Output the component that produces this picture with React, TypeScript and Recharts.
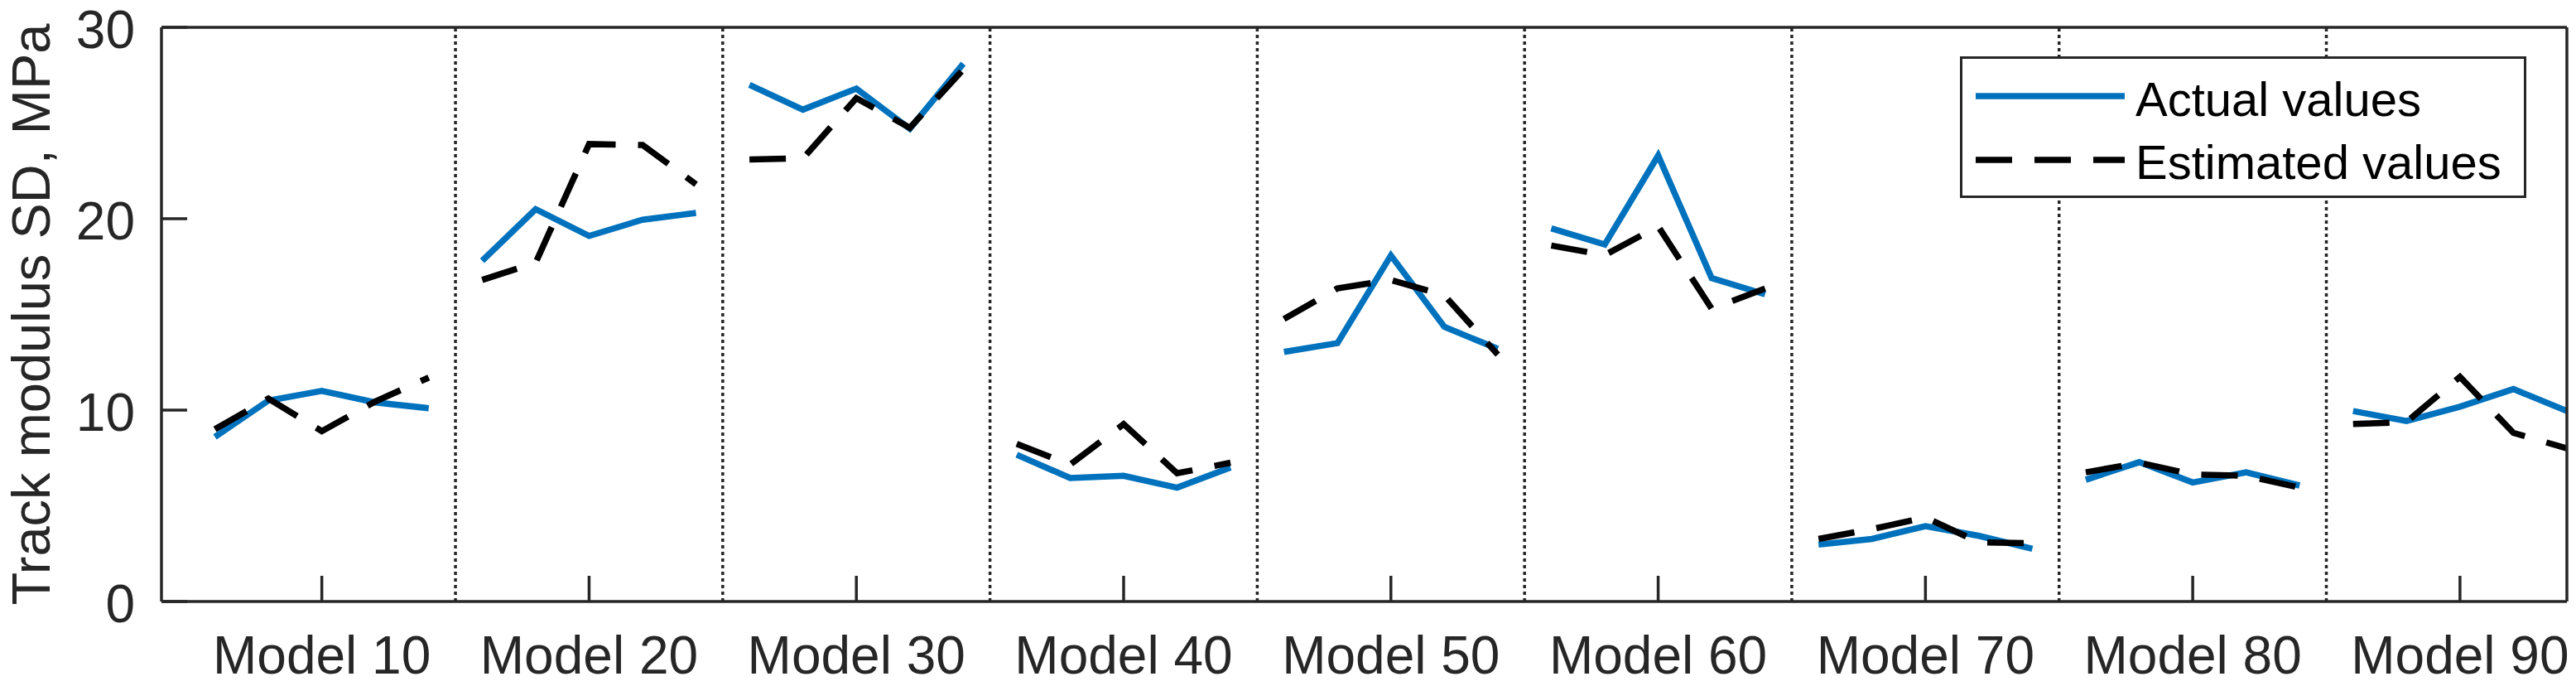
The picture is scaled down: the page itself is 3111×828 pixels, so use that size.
import React from "react";
import { LineChart, Line, XAxis, YAxis, ReferenceLine, Legend } from "recharts";

const categories = [
  "Model 10",
  "Model 20",
  "Model 30",
  "Model 40",
  "Model 50",
  "Model 60",
  "Model 70",
  "Model 80",
  "Model 90",
];

// five samples per model, spread around the model's tick
const sampleOffsets = [-0.4, -0.2, 0, 0.2, 0.4];

const actualValues = [
  [8.6, 10.5, 11.0, 10.4, 10.1],
  [17.8, 20.5, 19.1, 19.95, 20.3],
  [27.0, 25.7, 26.8, 24.7, 28.1],
  [7.67, 6.45, 6.57, 5.95, 7.0],
  [13.04, 13.5, 18.08, 14.35, 13.2],
  [19.5, 18.65, 23.3, 16.9, 16.05],
  [2.97, 3.27, 3.94, 3.43, 2.75],
  [6.36, 7.28, 6.22, 6.75, 6.06],
  [9.95, 9.43, 10.18, 11.1, 9.95],
];

const estimatedValues = [
  [9.0, 10.6, 8.9, 10.45, 11.7],
  [16.8, 17.7, 23.9, 23.85, 21.8],
  [23.1, 23.15, 26.3, 24.75, 27.8],
  [8.24, 7.15, 9.27, 6.7, 7.25],
  [14.76, 16.36, 16.8, 16.0, 12.9],
  [18.6, 18.1, 19.6, 15.3, 16.35],
  [3.27, 3.78, 4.39, 3.09, 3.04],
  [6.75, 7.25, 6.64, 6.57, 5.95],
  [9.27, 9.38, 11.74, 8.81, 8.0],
];

const yTicks = [0, 10, 20, 30];

const AXIS = "#262626";
const FONT = "'Liberation Sans', Arial, Helvetica, sans-serif";

const xTicks = categories.map((_, i) => i + 1);
const dividers = categories.slice(1).map((_, i) => i + 1.5);

// one row per sample, with an empty row between models so the lines break
const rows = categories.flatMap((_, i) => [
  ...sampleOffsets.map((off, j) => ({
    x: i + 1 + off,
    actual: actualValues[i][j],
    estimated: estimatedValues[i][j],
  })),
  ...(i < categories.length - 1
    ? [{ x: i + 1.5, actual: null, estimated: null }]
    : []),
]);

// y tick label, nudged a touch down so the top one stays inside the page
const YTick = ({ x, y, payload }: any) => (
  <text
    x={x}
    y={y + 2.5}
    dy="0.355em"
    textAnchor="end"
    fill={AXIS}
    fontSize={64}
    fontFamily={FONT}
  >
    {payload.value}
  </text>
);

const LegendBox = ({ payload }: any) => (
  <div
    style={{
      width: 684,
      height: 171,
      boxSizing: "border-box",
      border: `3px solid ${AXIS}`,
      background: "#fff",
    }}
  >
    <svg width={678} height={165} style={{ display: "block" }}>
      {(payload || []).map((entry: any, i: number) => (
        <g key={entry.value}>
          <line
            x1={16}
            x2={196}
            y1={45 + i * 77}
            y2={45 + i * 77}
            stroke={entry.color}
            strokeWidth={7.5}
            strokeDasharray={entry.payload?.strokeDasharray}
          />
          <text
            x={209}
            y={69 + i * 76}
            fontSize={58}
            fontFamily={FONT}
            fill="#000"
          >
            {entry.value}
          </text>
        </g>
      ))}
    </svg>
  </div>
);

export default function App() {
  return (
    <div style={{ width: 3111, height: 828, background: "#fff" }}>
      <style>{"body{margin:0;}"}</style>
      <LineChart
        width={3111}
        height={828}
        data={rows}
        margin={{ top: 32, right: 10, left: 0, bottom: 0 }}
      >
        <XAxis
          dataKey="x"
          type="number"
          domain={[0.4, 9.4]}
          allowDataOverflow
          ticks={xTicks}
          interval={0}
          tickFormatter={(v: number) => categories[Math.round(v) - 1]}
          height={102}
          tickSize={-31}
          tickMargin={73}
          tickLine={{ stroke: AXIS, strokeWidth: 3.5 }}
          axisLine={{ stroke: AXIS, strokeWidth: 3.5 }}
          tick={{ fill: AXIS, fontSize: 64, fontFamily: FONT }}
        />
        <XAxis
          xAxisId="top"
          orientation="top"
          type="number"
          domain={[0.4, 9.4]}
          allowDataOverflow
          ticks={xTicks}
          interval={0}
          height={1}
          tickSize={-31}
          tick={false}
          tickLine={{ stroke: AXIS, strokeWidth: 3.5 }}
          axisLine={{ stroke: AXIS, strokeWidth: 3.5 }}
        />
        <YAxis
          type="number"
          domain={[0, 30]}
          ticks={yTicks}
          interval={0}
          width={195}
          tickSize={-31}
          tickMargin={63}
          tickLine={{ stroke: AXIS, strokeWidth: 3.5 }}
          axisLine={{ stroke: AXIS, strokeWidth: 3.5 }}
          tick={<YTick />}
          label={{
            value: "Track modulus SD, MPa",
            angle: -90,
            position: "insideLeft",
            offset: 37,
            style: {
              textAnchor: "middle",
              fill: AXIS,
              fontSize: 65,
              fontFamily: FONT,
            },
          }}
        />
        <YAxis
          yAxisId="right"
          orientation="right"
          type="number"
          domain={[0, 30]}
          ticks={yTicks}
          interval={0}
          width={1}
          tickSize={-31}
          tick={false}
          tickLine={{ stroke: AXIS, strokeWidth: 3.5 }}
          axisLine={{ stroke: AXIS, strokeWidth: 3.5 }}
        />
        {dividers.map((d) => (
          <ReferenceLine
            key={d}
            x={d}
            stroke={AXIS}
            strokeWidth={3.5}
            strokeDasharray="4 4"
          />
        ))}
        <Legend
          layout="horizontal"
          verticalAlign="middle"
          align="center"
          content={<LegendBox />}
          wrapperStyle={{ left: 2367, top: 68, width: 684, height: 171 }}
        />
        <Line
          dataKey="actual"
          name="Actual values"
          type="linear"
          stroke="#0072BD"
          strokeWidth={7.5}
          dot={false}
          activeDot={false}
          isAnimationActive={false}
        />
        <Line
          dataKey="estimated"
          name="Estimated values"
          type="linear"
          stroke="#000000"
          strokeWidth={7.5}
          strokeDasharray="44 27"
          dot={false}
          activeDot={false}
          isAnimationActive={false}
        />
      </LineChart>
    </div>
  );
}
